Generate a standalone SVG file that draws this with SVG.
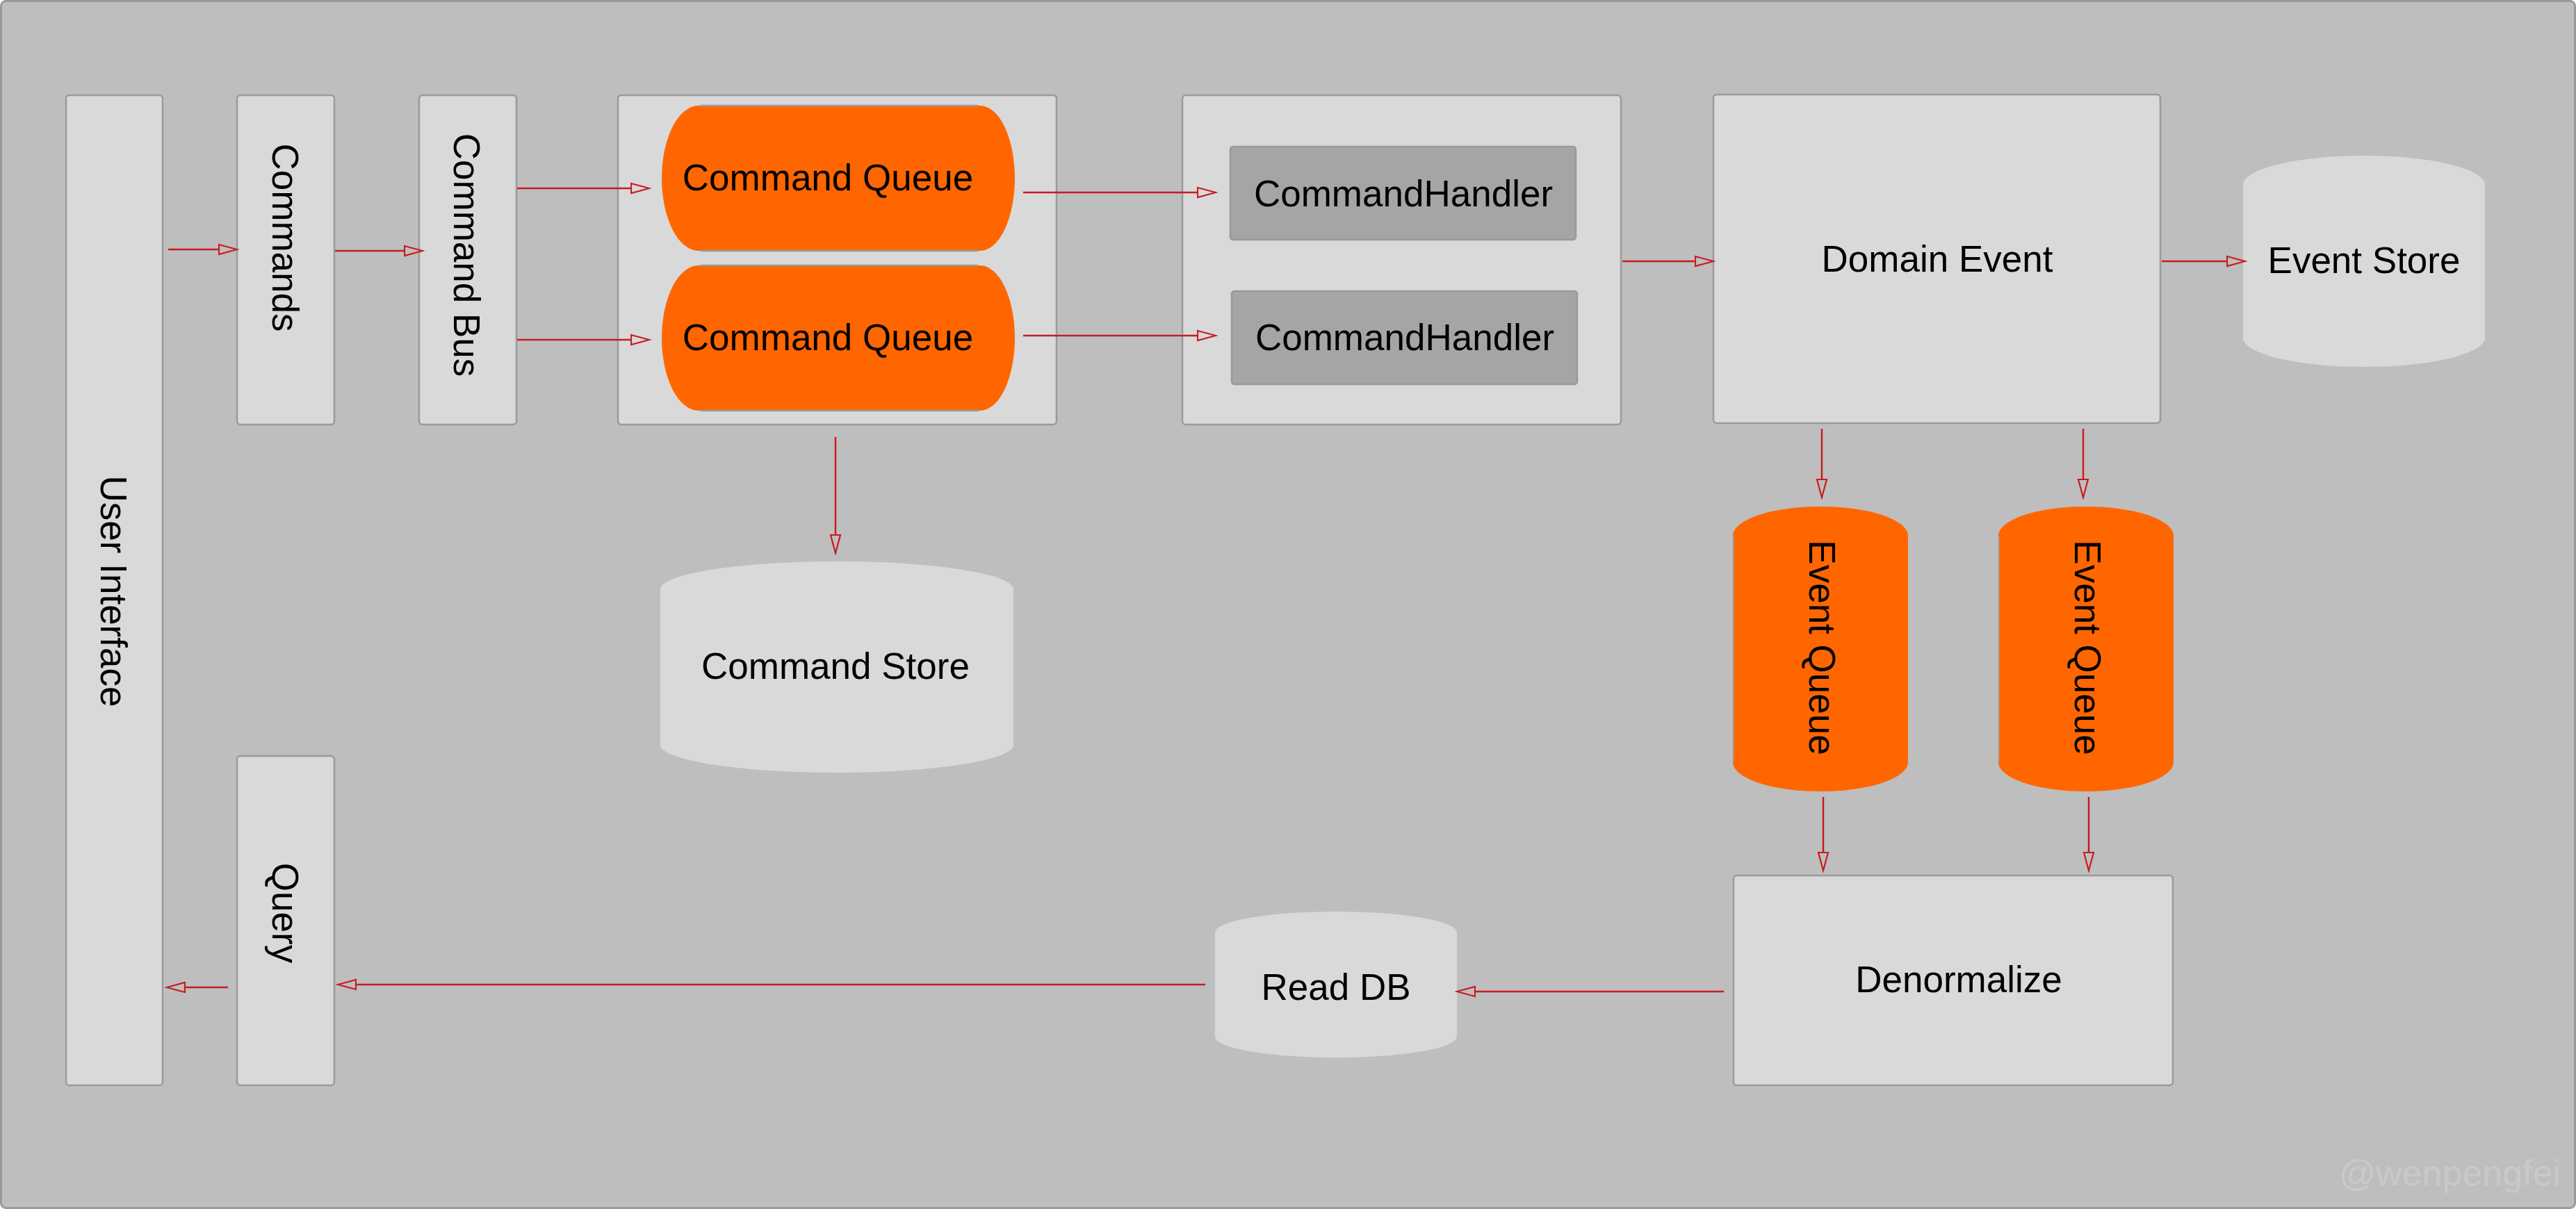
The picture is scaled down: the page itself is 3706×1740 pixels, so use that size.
<svg xmlns="http://www.w3.org/2000/svg" width="3706" height="1740" viewBox="0 0 3706 1740">
<defs>
<style>
.box{fill:#d9d9d9;stroke:#9a9a9a;stroke-width:2.5}
.handler{fill:#a5a5a5;stroke:#999;stroke-width:2.5}
.store{fill:#d9d9d9}
.queue{fill:#ff6600}
.edge{stroke:#9a9a9a;stroke-width:2.5;fill:none}
.lbl{font-family:"Liberation Sans",Arial,Helvetica,sans-serif;font-size:53px;fill:#000;text-anchor:middle}
.wm{font-family:"Liberation Sans",Arial,Helvetica,sans-serif;font-size:52px;fill:#c9c9c9;text-anchor:end}
.conn{stroke:#c81c1f;stroke-width:2.5;fill:none;marker-end:url(#arr)}
</style>
<marker id="arr" markerUnits="userSpaceOnUse" markerWidth="30" markerHeight="18" refX="1" refY="8" orient="auto" viewBox="0 0 30 16">
<path d="M1,1 L27,8 L1,15 Z" fill="none" stroke="#c81c1f" stroke-width="2.2"/>
</marker>
</defs>
<rect x="1.5" y="1.5" width="3703" height="1737" rx="7" fill="#bebebe" stroke="#9a9a9a" stroke-width="3"/>

<g id="user-interface">
<rect class="box" x="95" y="137" width="139" height="1425" rx="5"/>
<text class="lbl" transform="translate(163,851) rotate(90)" x="0" y="18">User Interface</text>
</g>
<g id="commands">
<rect class="box" x="341" y="137" width="140" height="474" rx="5"/>
<text class="lbl" transform="translate(410,342) rotate(90)" x="0" y="18">Commands</text>
</g>
<g id="command-bus">
<rect class="box" x="603" y="137" width="140" height="474" rx="5"/>
<text class="lbl" transform="translate(671,367) rotate(90)" x="0" y="18">Command Bus</text>
</g>
<g id="query">
<rect class="box" x="341" y="1088" width="140" height="474" rx="5"/>
<text class="lbl" transform="translate(410,1314) rotate(90)" x="0" y="18">Query</text>
</g>

<g id="command-queues">
<rect class="box" x="889" y="137" width="631" height="474" rx="5"/>
<g id="command-queue-1">
<path class="queue" d="M1005,152 L1410,152 A50,104.5 0 0 1 1410,361 L1005,361 A53,104.5 0 0 1 1005,152 Z"/>
<path class="edge" d="M1008,152 L1407,152 M1008,361 L1407,361"/>
<text class="lbl" x="1191" y="274">Command Queue</text>
</g>
<g id="command-queue-2">
<path class="queue" d="M1005,382 L1410,382 A50,104.5 0 0 1 1410,591 L1005,591 A53,104.5 0 0 1 1005,382 Z"/>
<path class="edge" d="M1008,382 L1407,382 M1008,591 L1407,591"/>
<text class="lbl" x="1191" y="504">Command Queue</text>
</g>
</g>

<g id="command-handlers">
<rect class="box" x="1701" y="137" width="631" height="474" rx="5"/>
<g id="command-handler-1">
<rect class="handler" x="1770" y="211" width="497" height="134" rx="4"/>
<text class="lbl" x="2019" y="297">CommandHandler</text>
</g>
<g id="command-handler-2">
<rect class="handler" x="1772" y="419" width="497" height="134" rx="4"/>
<text class="lbl" x="2021" y="504">CommandHandler</text>
</g>
</g>

<g id="domain-event">
<rect class="box" x="2465" y="136" width="643" height="473" rx="5"/>
<text class="lbl" x="2787" y="391">Domain Event</text>
</g>

<g id="event-store">
<path class="store" d="M3227,266 A174,42 0 0 1 3575,266 L3575,486 A174,42 0 0 1 3227,486 Z"/>
<text class="lbl" x="3401" y="393">Event Store</text>
</g>

<g id="command-store">
<path class="store" d="M950,848 A254,40 0 0 1 1458,848 L1458,1072 A254,40 0 0 1 950,1072 Z"/>
<text class="lbl" x="1202" y="977">Command Store</text>
</g>

<g id="event-queue-1">
<path class="queue" d="M2493,771 A126,42 0 0 1 2745,771 L2745,1097 A126,42 0 0 1 2493,1097 Z"/>
<path d="M2494,771 L2494,1097" stroke="#9a9a9a" stroke-width="1.5"/>
<text class="lbl" transform="translate(2621,932) rotate(90)" x="0" y="18">Event Queue</text>
</g>
<g id="event-queue-2">
<path class="queue" d="M2875,771 A126,42 0 0 1 3127,771 L3127,1097 A126,42 0 0 1 2875,1097 Z"/>
<path d="M2876,771 L2876,1097" stroke="#9a9a9a" stroke-width="1.5"/>
<text class="lbl" transform="translate(3003,932) rotate(90)" x="0" y="18">Event Queue</text>
</g>

<g id="denormalize">
<rect class="box" x="2494" y="1260" width="632" height="302" rx="5"/>
<text class="lbl" x="2818" y="1428">Denormalize</text>
</g>

<g id="read-db">
<path class="store" d="M1748,1342 A174,30 0 0 1 2096,1342 L2096,1492 A174,30 0 0 1 1748,1492 Z"/>
<text class="lbl" x="1922" y="1439">Read DB</text>
</g>

<g id="connectors">
<path class="conn" d="M242,359 L315,359"/>
<path class="conn" d="M482,361 L582,361"/>
<path class="conn" d="M744,271 L908,271"/>
<path class="conn" d="M744,489 L908,489"/>
<path class="conn" d="M1472,277 L1723,277"/>
<path class="conn" d="M1472,483 L1723,483"/>
<path class="conn" d="M2334,376 L2439,376"/>
<path class="conn" d="M3110,376 L3204,376"/>
<path class="conn" d="M1202,629 L1202,770"/>
<path class="conn" d="M2621,617 L2621,690"/>
<path class="conn" d="M2997,617 L2997,690"/>
<path class="conn" d="M2623,1147 L2623,1227"/>
<path class="conn" d="M3005,1147 L3005,1227"/>
<path class="conn" d="M2480,1427 L2122,1427"/>
<path class="conn" d="M1734,1417 L512,1417"/>
<path class="conn" d="M328,1421 L266,1421"/>
</g>

<text class="wm" x="3684" y="1706">@wenpengfei</text>
</svg>
